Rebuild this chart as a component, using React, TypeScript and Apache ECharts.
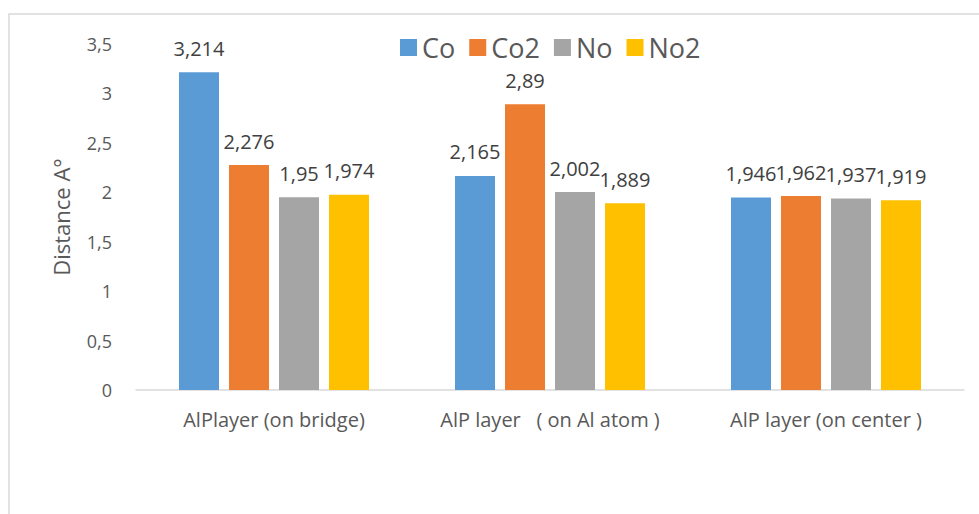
import React, { useEffect, useRef } from "react";
import * as echarts from "echarts";

const categories = ["AlPlayer (on bridge)", "AlP layer   ( on Al atom )", "AlP layer (on center )"];
const seriesNames = ["Co", "Co2", "No", "No2"];
const coValues = [3.214, 2.165, 1.946];
const co2Values = [2.276, 2.89, 1.962];
const noValues = [1.95, 2.002, 1.937];
const no2Values = [1.974, 1.889, 1.919];
const colors = ["#5b9bd5", "#ed7d31", "#a5a5a5", "#ffc000"];

const FONT = "'Open Sans', 'Liberation Sans', sans-serif";

export default function App() {
  const ref = useRef<HTMLDivElement>(null);
  useEffect(() => {
    if (!ref.current) return;
    const chart = echarts.init(ref.current, null, { renderer: "svg" });
    const all = [coValues, co2Values, noValues, no2Values];
    chart.setOption({
      animation: false,
      textStyle: { fontFamily: FONT },
      graphic: [
        {
          type: "rect",
          shape: { x: 9, y: 14, width: 1000, height: 600 },
          style: { fill: "none", stroke: "#d9d9d9", lineWidth: 1.5 },
          silent: true,
        },
      ],
      legend: {
        top: 29,
        left: 395,
        itemWidth: 17,
        itemHeight: 17,
        itemGap: 14,
        icon: "rect",
        textStyle: { fontSize: 27, color: "#595959", fontFamily: FONT },
        data: seriesNames,
      },
      grid: { left: 136, right: 15, top: 44, bottom: 124 },
      xAxis: {
        type: "category",
        data: categories,
        axisLine: { show: true, lineStyle: { color: "#d9d9d9", width: 1.5 } },
        axisTick: { show: false },
        axisLabel: {
          fontSize: 20,
          color: "#595959",
          margin: 19,
          fontFamily: FONT,
          interval: 0,
          hideOverlap: false,
        },
      },
      yAxis: {
        type: "value",
        min: 0,
        max: 3.5,
        interval: 0.5,
        name: "Distance A°",
        nameLocation: "middle",
        nameRotate: 90,
        nameGap: 64,
        nameTextStyle: { fontSize: 22, color: "#595959", fontFamily: FONT },
        axisLine: { show: false },
        axisTick: { show: false },
        splitLine: { show: false },
        axisLabel: {
          fontSize: 18,
          color: "#595959",
          margin: 24,
          fontFamily: FONT,
          formatter: (v: number) => String(v).replace(".", ","),
        },
      },
      series: seriesNames.map((name, i) => ({
        name,
        type: "bar",
        data: all[i],
        barWidth: 40,
        barGap: "25%",
        itemStyle: { color: colors[i] },
        label: {
          show: true,
          position: "top",
          distance: 14,
          fontSize: 20,
          color: "#404040",
          fontFamily: FONT,
          formatter: (p: any) => String(p.value).replace(".", ","),
        },
      })),
    });
    return () => chart.dispose();
  }, []);
  return (
    <div
      ref={ref}
      style={{ position: "fixed", left: 0, top: 0, width: 979, height: 514, background: "#fff" }}
    />
  );
}
